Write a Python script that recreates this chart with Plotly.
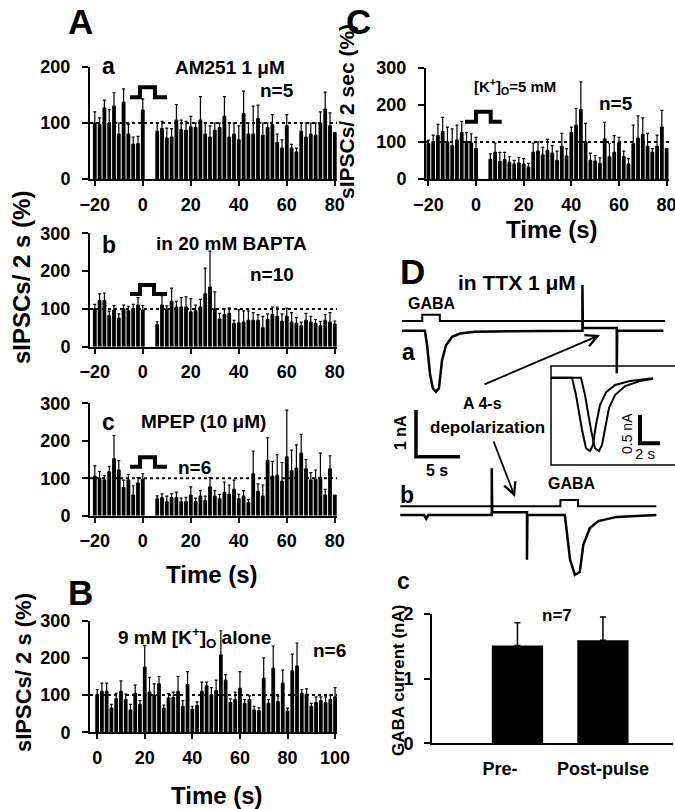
import plotly.graph_objects as go

W, H = 675, 809
FONT = "Liberation Sans, Arial, sans-serif"

# ---------------- data ----------------
pre_times = list(range(-20, 1, 2))
post_times = list(range(6, 81, 2))
a_times = pre_times + post_times

aa_vals = [100, 97, 127, 100, 130, 80, 137, 80, 62, 63, 123,
           85, 90, 73, 75, 105, 88, 87, 93, 92, 105, 80, 75, 87, 92, 112, 75, 80, 70, 117, 80,
           80, 108, 78, 92, 97, 65, 55, 95, 55, 48, 85, 75, 80, 78, 100, 125, 95, 83]
aa_err = [20, 12, 14, 24, 24, 20, 24, 18, 13, 13, 20,
          15, 13, 18, 15, 28, 17, 16, 19, 8, 42, 20, 20, 13, 8, 35, 25, 20, 25, 40, 20,
          50, 24, 22, 8, 18, 15, 15, 20, 7, 7, 15, 25, 20, 22, 20, 30, 23, 0]

ab_vals = [100, 122, 122, 82, 97, 75, 100, 95, 100, 110, 97,
           58, 110, 100, 120, 105, 105, 105, 92, 95, 105, 140, 158, 100, 73, 85, 88, 62, 63, 65, 70,
           70, 70, 50, 72, 85, 80, 67, 80, 65, 62, 55, 70, 65, 62, 55, 70, 65, 60]
ab_err = [12, 18, 20, 12, 12, 12, 10, 12, 12, 20, 12,
          8, 25, 8, 35, 15, 25, 27, 35, 15, 20, 68, 95, 45, 15, 15, 15, 8, 35, 30, 25,
          20, 15, 30, 15, 20, 25, 20, 22, 25, 15, 10, 18, 15, 10, 12, 15, 25, 8]

ac_vals = [105, 100, 95, 117, 152, 122, 75, 95, 55, 87, 97,
           45, 48, 37, 48, 48, 37, 37, 55, 37, 52, 40, 77, 52, 45, 62, 57, 70, 45, 52, 35,
           112, 65, 52, 148, 105, 108, 92, 157, 120, 127, 167, 125, 95, 97, 102, 55, 125, 55]
ac_err = [28, 18, 12, 15, 62, 25, 20, 15, 25, 15, 15,
          8, 10, 15, 10, 15, 10, 12, 22, 10, 15, 12, 25, 15, 12, 28, 25, 25, 12, 15, 8,
          60, 20, 30, 60, 40, 55, 50, 125, 55, 62, 50, 25, 20, 25, 65, 15, 35, 0]

b_times = list(range(0, 101, 2))
b_vals = [100, 110, 110, 65, 90, 110, 88, 60, 105, 75, 175, 108, 100, 130, 65, 92, 93, 110, 70, 128,
          62, 72, 110, 125, 100, 112, 208, 140, 80, 88, 118, 78, 88, 60, 58, 145, 78, 172, 82, 132,
          57, 165, 178, 105, 102, 70, 80, 85, 80, 88, 95]
b_err = [15, 22, 22, 10, 15, 28, 15, 15, 22, 10, 58, 40, 30, 20, 8, 12, 15, 40, 15, 35,
         8, 10, 25, 10, 20, 28, 65, 15, 10, 20, 45, 10, 10, 10, 8, 55, 10, 60, 15, 35,
         8, 45, 62, 10, 15, 8, 15, 10, 15, 12, 25]

c_vals = [95, 100, 117, 128, 100, 90, 105, 125, 100, 97, 82,
          53, 72, 47, 52, 45, 40, 43, 40, 32, 72, 75, 65, 77, 70, 50, 88, 62, 125, 145, 187,
          100, 50, 48, 42, 108, 60, 72, 97, 60, 40, 95, 110, 120, 88, 72, 88, 140, 82]
c_err = [10, 18, 30, 38, 40, 45, 40, 30, 25, 25, 30,
         15, 25, 25, 20, 15, 10, 15, 15, 10, 25, 25, 20, 30, 20, 25, 35, 20, 15, 45, 75,
         50, 20, 15, 15, 45, 35, 45, 15, 15, 15, 50, 60, 45, 35, 10, 30, 45, 0]

# D traces (time in s, current in nA)
da_t = [0, 2.6, 2.85, 3.2, 3.5, 3.85, 4.2, 4.55, 5.0, 5.7, 6.6, 8.3, 20.5, 20.5, 20.55, 24.4, 24.4, 24.45, 29.7]
da_i = [0, 0, -0.31, -0.95, -1.23, -1.31, -1.23, -0.63, -0.31, -0.13, -0.06, -0.02, 0, 0.98, 0.06, 0.06, -0.91, 0, 0]
da_cmd_t = [0, 2.3, 2.3, 4.3, 4.3, 29.9]
da_cmd_v = [0.21, 0.21, 0.34, 0.34, 0.21, 0.21]

db_t = [-0.2, 2.5, 2.75, 3.0, 10.2, 10.2, 10.25, 14.2, 14.2, 14.25, 18.5, 19.1, 19.65, 20.2, 20.6, 21.35, 22.3, 24.4, 28.9]
db_i = [0, 0, -0.08, 0, 0, 1.0, 0.06, 0.06, -0.96, 0, 0, -0.96, -1.28, -1.22, -0.64, -0.28, -0.13, -0.04, 0]
db_cmd_t = [-0.2, 18.0, 18.0, 20.0, 20.0, 28.9]
db_cmd_v = [0.19, 0.19, 0.32, 0.32, 0.19, 0.19]

inset_t1 = [0, 2.1, 2.5, 3.1, 3.5, 3.9, 4.2, 4.5, 4.9, 5.5, 6.4, 7.9, 10.2]
inset_i1 = [0, 0, -0.31, -0.93, -1.26, -1.31, -1.20, -0.84, -0.49, -0.26, -0.13, -0.06, -0.01]
inset_t2 = [0, 3.0, 3.4, 4.0, 4.4, 4.8, 5.1, 5.4, 5.8, 6.4, 7.4, 8.9, 10.2]
inset_i2 = [0, 0, -0.31, -0.93, -1.26, -1.31, -1.20, -0.90, -0.54, -0.31, -0.15, -0.06, -0.02]

dc_labels = ["Pre-", "Post-pulse"]
dc_vals = [1.51, 1.59]
dc_err = [0.35, 0.36]

# ---------------- helpers ----------------
def dx(a, b):
    return [a / W, b / W]

def dy(top, bot):
    return [1 - bot / H, 1 - top / H]

def px(x):
    return x / W

def py(y):
    return 1 - y / H

fig = go.Figure()
layout = {}
shapes = []
annotations = []

def ax_name(n):
    return "" if n == 1 else str(n)

TICKFONT = dict(size=18, family=FONT, color="black", weight="bold")

def add_hist(n, times, vals, errs, xdom, ydom, xrange, yrange, xticks, yticks):
    s = ax_name(n)
    fig.add_trace(go.Bar(
        x=times, y=vals, width=1.6,
        marker=dict(color="black", line=dict(width=0)),
        error_y=dict(type="data", array=errs, arrayminus=[0] * len(errs), symmetric=False,
                     color="black", thickness=1.2, width=1.5),
        xaxis="x" + s, yaxis="y" + s, showlegend=False, hoverinfo="skip"))
    common = dict(showline=True, linewidth=2, linecolor="black", ticks="outside",
                  tickwidth=2, tickcolor="black", showgrid=False, zeroline=False,
                  automargin=False, ticklabeloverflow="allow", tickfont=TICKFONT)
    layout["xaxis" + s] = dict(domain=xdom, range=xrange, tickvals=xticks, ticklen=5,
                               anchor="y" + s, ticklabelstandoff=3, tickangle=0, **common)
    layout["yaxis" + s] = dict(domain=ydom, range=yrange, tickvals=yticks, ticklen=6,
                               anchor="x" + s, ticklabelstandoff=8, **common)
    shapes.append(dict(type="line", xref="x" + s, yref="y" + s, x0=xrange[0], x1=xrange[1],
                       y0=100, y1=100, layer="above",
                       line=dict(color="black", width=2, dash="dot")))

add_hist(1, a_times, aa_vals, aa_err, dx(90, 337.2), dy(67, 179), [-22, 81], [0, 200],
         [-20, 0, 20, 40, 60, 80], [0, 100, 200])
add_hist(2, a_times, ab_vals, ab_err, dx(90, 337.2), dy(233.3, 346.7), [-22, 81], [0, 300],
         [-20, 0, 20, 40, 60, 80], [0, 100, 200, 300])
add_hist(3, a_times, ac_vals, ac_err, dx(90, 337.2), dy(403.3, 515.7), [-22, 81], [0, 300],
         [-20, 0, 20, 40, 60, 80], [0, 100, 200, 300])
add_hist(4, b_times, b_vals, b_err, dx(90, 337), dy(620.7, 732.3), [-3, 100.8], [0, 300],
         [0, 20, 40, 60, 80, 100], [0, 100, 200, 300])
add_hist(5, a_times, c_vals, c_err, dx(426, 669), dy(67.7, 179), [-21, 81], [0, 300],
         [-20, 0, 20, 40, 60, 80], [0, 100, 200, 300])

# ---- D traces ----
def hidden_axes(n, xdom, ydom, xrange, yrange):
    s = ax_name(n)
    layout["xaxis" + s] = dict(domain=xdom, range=xrange, visible=False, anchor="y" + s,
                               automargin=False)
    layout["yaxis" + s] = dict(domain=ydom, range=yrange, visible=False, anchor="x" + s,
                               automargin=False)

def add_line(n, xs, ys, w=2.5):
    s = ax_name(n)
    fig.add_trace(go.Scatter(x=xs, y=ys, mode="lines", line=dict(color="black", width=w),
                             xaxis="x" + s, yaxis="y" + s, showlegend=False, hoverinfo="skip",
                             cliponaxis=False))

hidden_axes(6, dx(395, 670), dy(280, 400), [-0.795, 30.45], [-1.484, 1.086])
hidden_axes(7, dx(395, 670), dy(460, 590), [-0.795, 30.45], [-1.606, 1.178])
hidden_axes(8, dx(551, 675), dy(366, 465), [0, 12.4], [-1.559, 0.209])

add_line(6, da_cmd_t, da_cmd_v, 2)
add_line(6, da_t, da_i, 2.5)
add_line(7, db_cmd_t, db_cmd_v, 2)
add_line(7, db_t, db_i, 2.5)
add_line(8, inset_t1, inset_i1, 2)
add_line(8, inset_t2, inset_i2, 2)

# ---- Dc bar chart ----
fig.add_trace(go.Bar(
    x=dc_labels, y=dc_vals, width=0.6, marker=dict(color="black", line=dict(width=0)),
    error_y=dict(type="data", array=dc_err, arrayminus=[0, 0], symmetric=False,
                 color="black", thickness=1.5, width=3),
    xaxis="x9", yaxis="y9", showlegend=False, hoverinfo="skip"))
layout["xaxis9"] = dict(domain=dx(432, 673), type="category", range=[-1.0, 1.82],
                        showline=True, linewidth=2, linecolor="black", ticks="",
                        tickvals=dc_labels, tickangle=0, automargin=False,
                        ticklabeloverflow="allow",
                        ticktext=[dc_labels[0] + "\u00a0" * 7, dc_labels[1]],
                        tickfont=TICKFONT,
                        anchor="y9", ticklabelstandoff=8, showgrid=False, zeroline=False)
layout["yaxis9"] = dict(domain=dy(613.7, 743.3), range=[0, 2], tickvals=[0, 1, 2],
                        showline=True, linewidth=2, linecolor="black", ticks="outside",
                        ticklen=6, tickwidth=2, tickcolor="black", automargin=False,
                        ticklabeloverflow="allow", tickfont=TICKFONT,
                        anchor="x9", ticklabelstandoff=7, showgrid=False, zeroline=False)

# ---- shapes: pulses, scale bars, inset box ----
def path_shape(pts, w):
    path = "M " + " L ".join(f"{px(a):.5f},{py(b):.5f}" for a, b in pts)
    shapes.append(dict(type="path", xref="paper", yref="paper", path=path,
                       line=dict(color="black", width=w)))

def pulse(x0, xu, xd, x1, ylo, yhi):
    path_shape([(x0, ylo), (xu, ylo), (xu, yhi), (xd, yhi), (xd, ylo), (x1, ylo)], 4)

pulse(130, 140, 155, 167, 97.3, 87.3)
pulse(130, 140, 154, 167, 294, 285)
pulse(130, 140, 155, 167, 466.7, 457.3)
pulse(465, 476, 490.7, 501.7, 121.7, 111.7)

path_shape([(416, 410), (416, 456.7), (460, 456.7)], 3.5)
path_shape([(640, 415), (640, 443.3), (660, 443.3)], 4)
shapes.append(dict(type="rect", xref="paper", yref="paper", x0=px(551), x1=px(690),
                   y0=py(465), y1=py(366), line=dict(color="black", width=1.5)))

# ---- annotations ----
def txt(x, y, text, size=18, bold=True, angle=0, xanchor="center"):
    annotations.append(dict(x=px(x), y=py(y), xref="paper", yref="paper", text=text,
                            showarrow=False, xanchor=xanchor, yanchor="middle", textangle=angle,
                            font=dict(size=size, family=FONT, color="black",
                                      weight="bold" if bold else "normal")))

txt(80, 21, "A", 35)
txt(80, 592, "B", 35)
txt(358, 21, "C", 35)
txt(412, 272, "D", 35)

txt(108, 66, "a", 23)
txt(230, 67, "AM251 1 μM", 19)
txt(277, 90, "n=5", 19)
txt(109, 245, "b", 23)
txt(232, 243, "in 20 mM BAPTA", 19)
txt(272, 274, "n=10", 19)
txt(108, 422, "c", 23)
txt(203, 422, "MPEP (10 μM)", 19)
txt(195, 467, "n=6", 19)
txt(212, 574, "Time (s)", 24)
txt(21, 278, "sIPSCs/ 2 s (%)", 24, angle=-90)

txt(195, 637, "9 mM [K<sup>+</sup>]<sub>O</sub> alone", 19)
txt(329, 650, "n=6", 19)
txt(217, 795, "Time (s)", 24)
txt(23, 673, "sIPSCs/ 2 s (%)", 22, angle=-90)

txt(515, 87, "[K<sup>+</sup>]<sub>O</sub>=5 mM", 15)
txt(616, 103, "n=5", 19)
txt(552, 230, "Time (s)", 24)
txt(346, 112, "sIPSCs/ 2 sec (%)", 21, angle=-90)

txt(517, 282, "in TTX 1 μM", 21)
txt(432, 303, "GABA", 16)
txt(408, 352, "a", 23)
txt(482, 403, "A 4-s", 16)
txt(488, 427, "depolarization", 17)
txt(400, 433, "1 nA", 16, angle=-90)
txt(437, 470, "5 s", 16)
txt(627, 434, "0.5 nA", 14, bold=False, angle=-90)
txt(645, 453, "2 s", 15, bold=False)
txt(407, 495, "b", 23)
txt(572, 483, "GABA", 16)
txt(403, 581, "c", 23)
txt(557, 615, "n=7", 17)
txt(398, 681, "GABA current (nA)", 17, angle=-90)

# arrows
for tip, tail in [((600, 335), (483, 385)), ((515, 497), (493, 440))]:
    annotations.append(dict(x=px(tip[0]), y=py(tip[1]), xref="paper", yref="paper",
                            ax=tail[0] - tip[0], ay=tail[1] - tip[1], text="", showarrow=True,
                            arrowhead=5, arrowsize=1.3, arrowwidth=1.8, arrowcolor="black"))

fig.update_layout(
    width=W, height=H, autosize=False,
    margin=dict(l=0, r=0, t=0, b=0, pad=0, autoexpand=False),
    paper_bgcolor="white", plot_bgcolor="rgba(0,0,0,0)",
    font=dict(family=FONT, color="black"),
    showlegend=False, barmode="overlay",
    shapes=shapes, annotations=annotations,
    **layout)

fig.write_html("out.html", config={"displayModeBar": False},
               post_script="document.body.style.margin='0px';document.body.style.padding='0px';"
                           "document.documentElement.style.overflow='hidden';")
